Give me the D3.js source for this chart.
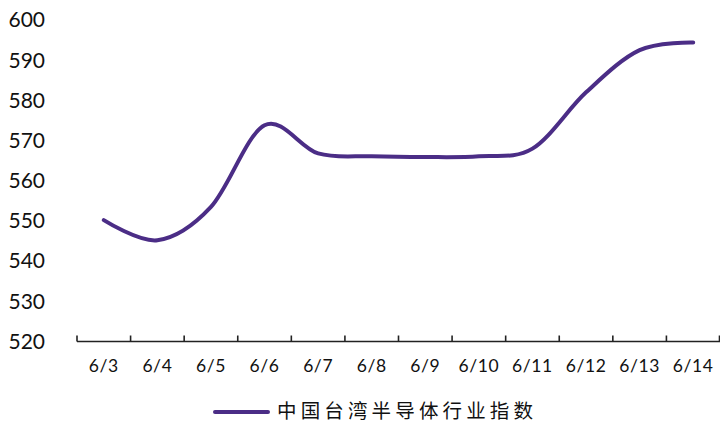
<!DOCTYPE html>
<html><head><meta charset="utf-8">
<script src="https://cdn.jsdelivr.net/npm/d3@7"></script>
<style>html,body{margin:0;padding:0;background:#fff;}svg{display:block;}</style>
</head><body>
<svg id="c" width="720" height="423"></svg>
<script>
const categories = ["6/3","6/4","6/5","6/6","6/7","6/8","6/9","6/10","6/11","6/12","6/13","6/14"];
const values = [550.2, 545.2, 553.5, 573.8, 566.8, 566.1, 565.9, 566.1, 568.0, 582.0, 592.5, 594.4];
const yTicks = [520, 530, 540, 550, 560, 570, 580, 590, 600];
const seriesName = "中国台湾半导体行业指数";

(function () {
const svg = d3.select("#c");
const mLeft = 77, mRight = 720, mTop = 20, mBottom = 341.5;
const x = d3.scaleBand().domain(categories).range([mLeft, mRight]);
const y = d3.scaleLinear().domain([520, 600]).range([mBottom, mTop]);
const font = "Lato, 'DejaVu Sans', sans-serif";

// y labels
svg.append("g").selectAll("text").data(yTicks).join("text")
  .attr("x", 45).attr("y", d => y(d)).attr("dy", "0.35em")
  .attr("text-anchor", "end").attr("font-family", font).attr("font-size", 21)
  .attr("fill", "#111").text(d => d);

// x axis
const xAxis = d3.axisBottom(x).tickSize(0).tickPadding(0);
const gx = svg.append("g").attr("transform", `translate(0,${mBottom})`).call(xAxis);
gx.select(".domain").remove();
gx.selectAll("text").attr("font-family", font).attr("font-size", 17.5).attr("fill", "#111")
  .attr("dy", "0").attr("y", 30).attr("letter-spacing", 0.6);
gx.append("line").attr("x1", mLeft).attr("x2", mRight).attr("y1", 0).attr("y2", 0)
  .attr("stroke", "#222").attr("stroke-width", 1.6);
const bounds = categories.map(c => x(c)).concat([mRight - 0.5]);
gx.selectAll("line.tk").data(bounds).join("line").attr("class", "tk")
  .attr("x1", d => d).attr("x2", d => d).attr("y1", 0).attr("y2", -6)
  .attr("stroke", "#222").attr("stroke-width", 1.6);

// line
const line = d3.line()
  .x((d, i) => x(categories[i]) + x.bandwidth() / 2)
  .y(d => y(d))
  .curve(d3.curveCardinal.tension(0));
svg.append("path").datum(values).attr("d", line)
  .attr("fill", "none").attr("stroke", "#4b2d86").attr("stroke-width", 4)
  .attr("stroke-linecap", "round");

// legend
svg.append("line").attr("x1", 215).attr("x2", 268).attr("y1", 412).attr("y2", 412)
  .attr("stroke", "#4b2d86").attr("stroke-width", 4).attr("stroke-linecap", "round");
svg.append("text").attr("x", 277).attr("y", 411).attr("dy", "0.35em")
  .attr("font-family", "'Noto Sans CJK SC', sans-serif").attr("font-size", 19.5)
  .attr("textLength", 256).attr("lengthAdjust", "spacing")
  .attr("fill", "#111").text(seriesName);
})();
</script>
</body></html>
